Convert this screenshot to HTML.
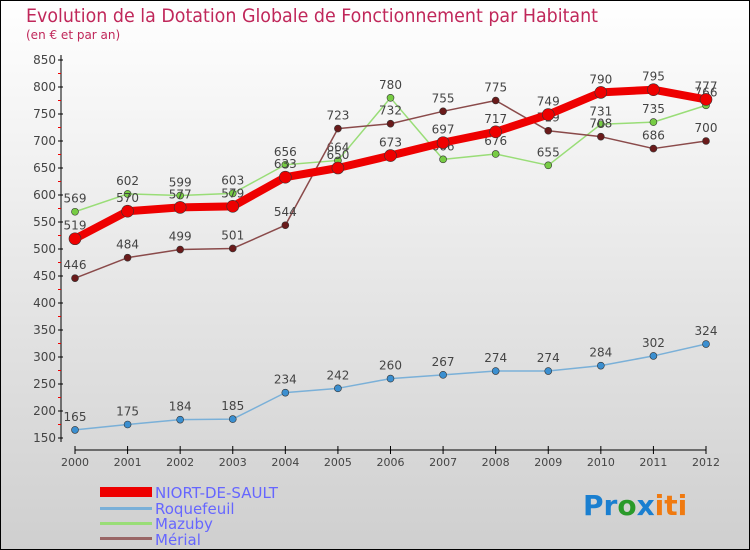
<!DOCTYPE html>
<html><head><meta charset="utf-8"><style>
body{margin:0;}
#wrap{width:750px;height:550px;position:relative;overflow:hidden;}
svg{font-family:"DejaVu Sans","Liberation Sans",sans-serif;}
</style></head><body>
<div id="wrap">
<svg id="c" width="750" height="550">
<defs><linearGradient id="bg" x1="0" y1="0" x2="0" y2="1"><stop offset="0" stop-color="#ffffff"/><stop offset="1" stop-color="#cfcfcf"/></linearGradient></defs>
<rect x="0.5" y="0.5" width="749" height="549" fill="url(#bg)" stroke="#000"/>
<text x="26" y="22" font-size="19" fill="#c0275a" textLength="572" lengthAdjust="spacingAndGlyphs">Evolution de la Dotation Globale de Fonctionnement par Habitant</text>
<text x="26" y="39" font-size="12" fill="#c0275a">(en € et par an)</text>
<g id="axes"></g><g id="series"></g>
<g>
<rect x="100" y="487" width="52" height="10" fill="#ee0000"/>
<text x="155" y="498" font-size="15" fill="#6666ff">NIORT-DE-SAULT</text>
<rect x="100" y="507" width="52" height="3" fill="#7ab0d8"/>
<text x="155" y="514" font-size="15" fill="#6666ff">Roquefeuil</text>
<rect x="100" y="522" width="52" height="3" fill="#99dd77"/>
<text x="155" y="529" font-size="15" fill="#6666ff">Mazuby</text>
<rect x="100" y="537" width="52" height="3" fill="#996666"/>
<text x="155" y="545" font-size="15" fill="#6666ff">Mérial</text>
</g>
<text x="583" y="515" font-size="28" font-weight="bold"><tspan fill="#1a7fd0">Pr</tspan><tspan fill="#2a9a2a">o</tspan><tspan fill="#1a7fd0">x</tspan><tspan fill="#f07a10">iti</tspan></text>
</svg></div>
<script>
const years=["2000","2001","2002","2003","2004","2005","2006","2007","2008","2009","2010","2011","2012"];
const yTicks=[150,200,250,300,350,400,450,500,550,600,650,700,750,800,850];
const niort=[519,570,577,579,633,650,673,697,717,749,790,795,777];
const roquefeuil=[165,175,184,185,234,242,260,267,274,274,284,302,324];
const mazuby=[569,602,599,603,656,664,780,666,676,655,731,735,766];
const merial=[446,484,499,501,544,723,732,755,775,719,708,686,700];
const NS="http://www.w3.org/2000/svg";
function X(i){return 75+i*(706-75)/12;}
function Y(v){return 438-(v-150)*(438-60)/700;}
function mk(t,a,p){const e=document.createElementNS(NS,t);for(const k in a)e.setAttribute(k,a[k]);p.appendChild(e);return e;}
const ax=document.getElementById('axes');
mk('line',{x1:61,y1:55,x2:61,y2:442,stroke:'#000'},ax);
mk('line',{x1:75,y1:450,x2:706,y2:450,stroke:'#000'},ax);
yTicks.forEach(v=>{
 const l=mk('line',{x1:58,y1:Y(v),x2:63,y2:Y(v),stroke:'#000'},ax);
 
 if(v<850){const r=mk('line',{x1:58,y1:Y(v+25),x2:61,y2:Y(v+25),stroke:'#e00'},ax);}
 const t=mk('text',{x:56,y:Y(v)+4,'font-size':12,fill:'#444','text-anchor':'end'},ax);t.textContent=v;
 
});
years.forEach((y,i)=>{
 const l=mk('line',{x1:X(i),y1:446,x2:X(i),y2:454,stroke:'#000'},ax);
 const t=mk('text',{x:X(i),y:466,'font-size':11,fill:'#444','text-anchor':'middle'},ax);t.textContent=y;
 
});
const sg=document.getElementById('series');
function series(name,data,color,w,r,mfill){
 const g=mk('g',{},sg);
 const p=mk('polyline',{points:data.map((v,i)=>X(i)+','+Y(v)).join(' '),fill:'none',stroke:color,'stroke-width':w,'stroke-linejoin':'round'},g);
 
 data.forEach((v,i)=>{
  const c=mk('circle',{cx:X(i),cy:Y(v),r:r,fill:mfill,stroke:'#333','stroke-width':0.6},g);
  
  const t=mk('text',{x:X(i),y:Y(v)-9,'font-size':12,fill:'#444','text-anchor':'middle'},g);t.textContent=v;
  
 });
}
series('roquefeuil',roquefeuil,'#7ab0d8',1.5,3.5,'#3b8fd0');
series('mazuby',mazuby,'#99dd77',1.5,3.5,'#77cc44');
series('merial',merial,'#8a4a4a',1.5,3.5,'#6a1a1a');
series('niort',niort,'#ee0000',8,6,'#ee0000');
</script>
</body></html>
